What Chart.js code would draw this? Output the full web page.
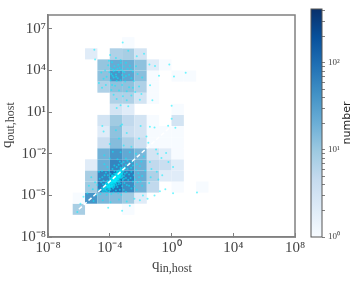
<!DOCTYPE html>
<html>
<head>
<meta charset="utf-8">
<script src="https://cdn.jsdelivr.net/npm/chart.js@4/dist/chart.umd.min.js"></script>
<style>
  html, body { margin: 0; padding: 0; background: #fff; }
  #wrap { position: relative; width: 354px; height: 283px; }
  #main { position: absolute; left: 0; top: 0; }
  #bar { position: absolute; left: 300px; top: 0; }
</style>
</head>
<body>
<div id="wrap">
  <canvas id="main" width="354" height="283"></canvas>
  <canvas id="bar" width="54" height="283"></canvas>
</div>
<script>
// log10 edges of the 20 x 20 histogram bins
const binEdges = [-8, -7.2, -6.4, -5.6, -4.8, -4, -3.2, -2.4, -1.6, -0.8, 0, 0.8, 1.6, 2.4, 3.2, 4, 4.8, 5.6, 6.4, 7.2, 8];

// counts per column, row 0 is the lowest bin that has anything in it (starts at binEdges[2])
const countRows = [
  [0, 0, 8, 0, 0, 0, 1, 0, 0, 0, 0, 0, 0],
  [0, 0, 1, 40, 16, 14, 9, 2, 0, 0, 0, 0, 0],
  [0, 0, 0, 9, 70, 90, 50, 18, 5, 0, 1, 0, 1],
  [0, 0, 0, 8, 60, 100, 70, 22, 7, 2, 2, 0, 0],
  [0, 0, 0, 2, 20, 60, 40, 20, 5, 4, 2, 0, 0],
  [0, 0, 0, 0, 18, 40, 24, 16, 3, 2, 1, 0, 0],
  [0, 0, 0, 0, 4, 14, 7, 4, 1, 1, 1, 0, 0],
  [0, 0, 0, 0, 2, 12, 4, 3, 1, 1, 1, 0, 0],
  [0, 0, 0, 0, 3, 9, 5, 3, 1, 0, 3, 0, 0],
  [0, 0, 0, 0, 0, 3, 2, 0, 0, 0, 1, 0, 0],
  [0, 0, 0, 0, 0, 7, 7, 3, 1, 0, 0, 0, 0],
  [0, 0, 0, 0, 7, 12, 12, 7, 1, 0, 0, 0, 0],
  [0, 0, 0, 0, 12, 38, 26, 13, 1, 0, 1, 1, 0],
  [0, 0, 0, 0, 11, 22, 20, 12, 2, 1, 0, 0, 0],
  [0, 0, 0, 2, 0, 7, 8, 3, 0, 0, 0, 0, 0],
  [0, 0, 0, 0, 0, 0, 1, 0, 0, 0, 0, 0, 0]
];
const firstRow = 2;
const countMax = 417;

const blues = ['#f7fbff', '#deebf7', '#c6dbef', '#9ecae1', '#6baed6', '#4292c6', '#2171b5', '#08519c', '#08306b'];

const xTicks = [1e-8, 1e-4, 1, 1e4, 1e8];
const xTickLabels = ['10⁻⁸', '10⁻⁴', '10⁰', '10⁴', '10⁸'];
const yTicks = [1e-8, 1e-5, 1e-2, 10, 1e4, 1e7];
const yTickLabels = ['10⁻⁸', '10⁻⁵', '10⁻²', '10¹', '10⁴', '10⁷'];
const barTicks = [1, 2, 3, 4, 5, 6, 7, 8, 9, 10, 20, 30, 40, 50, 60, 70, 80, 90, 100, 200, 300, 400];
const barTickLabels = { 1: '10⁰', 10: '10¹', 100: '10²' };

const lineEnds = [[1e-6, 1e-6], [1, 1]];

// log10 q_in, log10 q_out
const upperCloud = [
  [-3.16, 6.01], [-5.0, 5.5], [-4.95, 4.8], [-3.98, 5.12], [-2.8, 5.43], [-1.78, 5.2], [-2.25, 5.03], [-1.07, 4.33],
  [-0.14, 4.43], [-1.43, 4.43], [0.92, 3.84], [0.16, 3.56], [-0.81, 3.63], [-1.39, 2.93], [-1.24, 1.86], [0.01, 1.46],
  [0.01, 0.53], [-3.6, 4.9], [-3.3, 4.75], [-3.85, 4.6], [-2.95, 4.55], [-3.45, 4.42], [-4.1, 4.38], [-3.7, 4.3],
  [-3.1, 4.28], [-2.7, 4.35], [-3.95, 4.15], [-3.5, 4.12], [-3.25, 4.05], [-2.85, 4.1], [-4.3, 4.0], [-3.75, 3.95],
  [-3.4, 3.9], [-3.05, 3.88], [-2.5, 3.92], [-4.55, 3.85], [-3.9, 3.75], [-3.6, 3.72], [-3.2, 3.68], [-2.75, 3.7],
  [-2.2, 3.75], [-4.2, 3.55], [-3.75, 3.5], [-3.48, 3.45], [-3.1, 3.5], [-2.6, 3.45], [-1.9, 3.5], [-3.95, 3.3],
  [-3.55, 3.25], [-3.0, 3.2], [-2.45, 3.25], [-4.7, 3.1], [-4.25, 2.95], [-3.65, 2.9], [-3.2, 2.95], [-2.75, 2.8],
  [-2.1, 2.85], [-4.5, 2.75], [-3.9, 2.6], [-3.4, 2.55], [-2.9, 2.5], [-2.35, 2.45], [-3.75, 2.25], [-3.15, 2.15],
  [-2.6, 2.2], [-1.95, 2.3], [-3.55, 1.95], [-2.9, 1.85], [-2.05, 1.9], [-3.3, 1.5], [-3.55, 1.3], [-2.8, 1.42],
  [-3.82, 3.62], [-3.62, 4.02], [-3.35, 4.2], [-3.15, 3.95], [-3.58, 3.55], [-3.3, 3.3], [-2.95, 3.6], [-3.78, 4.08],
  [-4.02, 3.88], [-3.28, 4.55], [-2.62, 4.08], [-4.4, 3.4], [-2.3, 4.3], [-4.05, 4.7], [-2.5, 2.75], [-3.85, 2.95]
];

const lowerCloud = [
  [-4.48, -0.0], [-3.3, 0.02], [-3.2, 0.1], [-2.0, 0.0], [-1.4, -0.05], [-1.1, -0.1], [-1.62, -0.75], [-0.22, 0.02],
  [0.25, -0.12], [-4.4, -0.4], [-3.6, -0.3], [-2.9, -0.5], [-2.1, -0.9], [-1.5, -1.2], [-3.4, -0.9], [-4.0, -1.3],
  [-2.6, -1.5], [-3.1, -1.4], [-1.0, -1.7], [-0.9, -2.0], [-0.35, -1.95], [-0.65, -2.3], [-0.2, -2.6], [0.1, -2.95],
  [-1.4, -2.6], [-1.8, -2.2], [-2.3, -2.0], [-2.7, -1.9], [-3.3, -1.9], [-3.8, -1.85], [-4.35, -2.1], [-4.0, -2.35],
  [-3.5, -2.4], [-2.95, -2.35], [-2.45, -2.45], [-1.95, -2.55], [-1.3, -3.1], [-0.95, -3.3], [-0.6, -3.55], [-0.85, -3.85],
  [-1.35, -3.7], [-1.7, -3.2], [-1.45, -4.1], [-1.9, -4.3], [-2.25, -4.6], [-4.7, -3.3], [-4.95, -4.05], [-5.2, -3.7],
  [-5.35, -4.3], [-5.1, -4.55], [-5.45, -4.85], [-4.85, -4.95], [-5.7, -5.1], [-5.05, -5.4], [-4.45, -5.35], [-3.95, -5.5],
  [-3.4, -5.3], [-2.9, -5.45], [-2.4, -5.25], [-2.7, -5.75], [-3.2, -6.1], [-4.1, -5.9], [-5.9, -5.6], [-6.1, -6.2],
  [-1.85, -5.0], [-2.05, -5.35], [-1.1, -5.0], [0.1, -4.85], [1.65, -4.8], [-0.4, -4.55], [-0.75, -4.7], [-1.55, -5.25]
];

const coreCloud = [
  [-4.42, -4.52], [-4.35, -4.3], [-4.3, -4.58], [-4.27, -4.12], [-4.22, -4.38], [-4.18, -4.7], [-4.15, -3.95], [-4.12, -4.22],
  [-4.08, -4.48], [-4.05, -4.02], [-4.02, -3.72], [-3.98, -4.3], [-3.96, -4.6], [-3.94, -3.88], [-3.9, -4.12], [-3.88, -4.4],
  [-3.86, -3.6], [-3.83, -3.92], [-3.8, -4.22], [-3.78, -4.5], [-3.76, -3.72], [-3.74, -4.02], [-3.72, -3.45], [-3.7, -3.85],
  [-3.68, -4.28], [-3.66, -3.6], [-3.63, -3.95], [-3.6, -4.15], [-3.58, -3.42], [-3.56, -3.78], [-3.54, -3.28], [-3.52, -3.62],
  [-3.5, -4.02], [-3.47, -3.5], [-3.45, -3.85], [-3.42, -3.2], [-3.4, -3.68], [-3.37, -3.38], [-3.35, -3.92], [-3.32, -3.55],
  [-3.3, -3.12], [-3.27, -3.75], [-3.24, -3.3], [-3.2, -3.5], [-3.16, -3.02], [-3.12, -3.28], [-3.08, -3.6], [-3.05, -2.95],
  [-4.3, -4.4], [-4.2, -4.15], [-4.1, -4.3], [-4.0, -4.1], [-3.92, -4.25], [-3.85, -3.8], [-3.82, -4.05], [-3.75, -3.9],
  [-3.7, -4.1], [-3.65, -3.75], [-3.62, -3.52], [-3.58, -3.92], [-3.55, -3.65], [-3.48, -3.72], [-3.44, -3.45], [-3.38, -3.6],
  [-3.34, -3.3], [-3.28, -3.42], [-4.12, -4.05], [-4.04, -4.42], [-3.96, -3.98], [-3.9, -3.72], [-3.84, -3.55], [-3.78, -3.7],
  [-3.72, -3.78], [-3.68, -3.98], [-3.6, -3.85], [-3.52, -3.48], [-3.46, -3.6], [-3.42, -3.82], [-3.36, -3.48], [-3.26, -3.2],
  [-4.6, -4.9], [-4.72, -4.6], [-4.8, -4.25], [-4.55, -4.05], [-4.65, -3.8], [-4.48, -3.7], [-4.4, -3.95], [-4.33, -3.55],
  [-4.25, -3.35], [-4.12, -3.55], [-4.05, -3.2], [-3.95, -3.45], [-3.82, -3.1], [-3.7, -3.25], [-3.55, -2.95], [-3.42, -2.8],
  [-3.25, -2.7], [-3.1, -2.6], [-2.95, -2.8], [-2.85, -3.1], [-2.75, -2.7], [-2.62, -3.0], [-2.5, -2.85], [-2.9, -3.35],
  [-2.75, -3.5], [-2.6, -3.3], [-2.45, -3.55], [-2.3, -3.15], [-2.15, -3.4], [-2.95, -3.75], [-2.8, -3.9], [-2.65, -3.75],
  [-2.5, -4.0], [-2.35, -3.85], [-2.2, -4.05], [-3.05, -4.1], [-2.9, -4.25], [-2.75, -4.3], [-2.6, -4.5], [-2.4, -4.35],
  [-3.2, -4.35], [-3.1, -4.6], [-2.95, -4.75], [-3.35, -4.6], [-3.5, -4.4], [-3.6, -4.65], [-3.75, -4.8], [-3.45, -4.85],
  [-3.25, -4.95], [-3.9, -4.9], [-4.05, -4.75], [-4.2, -4.95], [-4.35, -4.78], [-4.5, -4.45], [-3.15, -3.9], [-3.3, -4.15],
  [-3.02, -3.45], [-3.42, -4.2], [-3.22, -3.7], [-4.44, -4.2], [-2.55, -2.6], [-2.85, -2.5], [-3.35, -2.55], [-3.7, -2.85],
  [-4.15, -2.95], [-4.5, -3.25], [-4.35, -2.75], [-2.05, -2.9], [-1.9, -3.6], [-2.1, -3.7], [-2.0, -4.0], [-2.25, -2.75]
];

// the bright blob on the diagonal
const denseCore = [
  [-4.38, -4.62], [-4.33, -4.47], [-4.28, -4.25], [-4.25, -4.52], [-4.2, -4.3], [-4.17, -4.44], [-4.14, -4.1], [-4.1, -4.58],
  [-4.07, -4.17], [-4.03, -4.33], [-4.0, -3.92], [-3.99, -4.52], [-3.95, -4.18], [-3.93, -4.38], [-3.9, -3.98], [-3.87, -4.27],
  [-3.85, -4.1], [-3.83, -3.75], [-3.81, -4.4], [-3.79, -3.98], [-3.77, -4.15], [-3.75, -3.62], [-3.73, -3.88], [-3.71, -4.24],
  [-3.69, -3.7], [-3.67, -4.05], [-3.65, -3.88], [-3.63, -3.62], [-3.61, -4.0], [-3.59, -3.72], [-3.57, -3.5], [-3.55, -3.88],
  [-3.53, -3.72], [-3.51, -3.38], [-3.49, -3.6], [-3.47, -3.92], [-3.45, -3.5], [-3.43, -3.68], [-3.41, -3.33], [-3.39, -3.52],
  [-3.37, -3.75], [-3.33, -3.42], [-3.31, -3.62], [-3.29, -3.24], [-3.25, -3.45], [-3.22, -3.14], [-3.18, -3.38], [-3.14, -3.12],
  [-4.24, -4.2], [-4.16, -4.28], [-4.09, -4.14], [-4.02, -4.22], [-3.97, -4.08], [-3.91, -3.85], [-3.88, -4.15], [-3.84, -3.98],
  [-3.8, -3.85], [-3.76, -4.05], [-3.74, -3.75], [-3.7, -3.62], [-3.66, -3.85], [-3.62, -3.68], [-3.6, -3.95], [-3.56, -3.58],
  [-3.52, -3.8], [-3.5, -3.55], [-3.46, -3.4], [-3.44, -3.72], [-3.4, -3.5], [-3.36, -3.62], [-3.32, -3.28], [-3.28, -3.55],
  [-4.13, -4.36], [-4.06, -4.08], [-3.98, -4.4], [-3.92, -4.02], [-3.86, -4.32], [-3.82, -3.86], [-3.78, -4.28], [-3.72, -3.96],
  [-3.68, -3.82], [-3.64, -4.08], [-3.58, -3.8], [-3.54, -3.5], [-3.48, -3.84], [-3.42, -3.62], [-3.38, -3.4], [-3.34, -3.7],
  [-4.46, -4.72], [-4.52, -4.6], [-4.26, -4.66], [-4.11, -4.4], [-3.94, -3.78], [-3.8, -3.58], [-3.64, -3.45], [-3.5, -3.25],
  [-3.3, -3.0], [-3.1, -3.15], [-3.0, -3.05], [-3.18, -3.62], [-3.08, -3.8], [-3.4, -4.05], [-3.55, -4.25], [-3.7, -4.4]
];

function cellColor(count) {
  const t = Math.log(count) / Math.log(countMax) * (blues.length - 1);
  const i = Math.min(Math.floor(t), blues.length - 2);
  const f = t - i;
  const a = parseInt(blues[i].slice(1), 16);
  const b = parseInt(blues[i + 1].slice(1), 16);
  const mix = shift => Math.round(((a >> shift) & 255) * (1 - f) + ((b >> shift) & 255) * f);
  return `rgb(${mix(16)},${mix(8)},${mix(0)})`;
}

const toPoints = list => list.map(p => ({ x: Math.pow(10, p[0]), y: Math.pow(10, p[1]) }));

const axisGray = '#808080';
const textGray = '#444444';
const serif = '"Liberation Serif", serif';

function drawSubLabel(ctx, x, y, main, sub) {
  ctx.textBaseline = 'alphabetic';
  ctx.textAlign = 'left';
  ctx.fillStyle = textGray;
  ctx.font = '15px ' + serif;
  const w = ctx.measureText(main).width;
  ctx.fillText(main, x, y);
  ctx.font = '12px ' + serif;
  ctx.fillText(sub, x + w, y + 3);
}

const histogram = {
  id: 'histogram',
  beforeDatasetsDraw(chart) {
    const ctx = chart.ctx, sx = chart.scales.x, sy = chart.scales.y;
    countRows.forEach((row, r) => {
      row.forEach((count, c) => {
        if (!count) return;
        const x0 = sx.getPixelForValue(Math.pow(10, binEdges[c]));
        const x1 = sx.getPixelForValue(Math.pow(10, binEdges[c + 1]));
        const y0 = sy.getPixelForValue(Math.pow(10, binEdges[r + firstRow]));
        const y1 = sy.getPixelForValue(Math.pow(10, binEdges[r + firstRow + 1]));
        ctx.fillStyle = cellColor(count);
        ctx.fillRect(x0, y1, x1 - x0, y0 - y1);
      });
    });
  },
  afterDraw(chart) {
    const ctx = chart.ctx, a = chart.chartArea;
    ctx.save();
    ctx.strokeStyle = axisGray;
    ctx.lineWidth = 1.5;
    ctx.strokeRect(a.left, a.top, a.right - a.left, a.bottom - a.top);
    drawSubLabel(ctx, 152, 269, 'q', 'in,host');
    ctx.translate(11, 148);
    ctx.rotate(-Math.PI / 2);
    drawSubLabel(ctx, 0, 0, 'q', 'out,host');
    ctx.restore();
  }
};

new Chart(document.getElementById('main'), {
  type: 'scatter',
  data: {
    datasets: [
      {
        type: 'line',
        data: lineEnds.map(p => ({ x: p[0], y: p[1] })),
        borderColor: '#ffffff',
        borderWidth: 1.5,
        borderDash: [4, 2.5],
        pointRadius: 0,
        order: 0
      },
      {
        data: toPoints(upperCloud.concat(lowerCloud, coreCloud, denseCore)),
        backgroundColor: 'rgba(0,240,255,0.55)',
        borderWidth: 0,
        pointRadius: 1,
        order: 1
      }
    ]
  },
  options: {
    responsive: false,
    animation: false,
    events: [],
    layout: { padding: { left: 0, top: 9, right: 59, bottom: 0 } },
    plugins: { legend: { display: false }, tooltip: { enabled: false } },
    scales: {
      x: {
        type: 'logarithmic',
        min: 1e-8,
        max: 1e8,
        afterBuildTicks: s => { s.ticks = xTicks.map(v => ({ value: v })); },
        afterFit: s => { s.height = 46; },
        ticks: {
          autoSkip: false, maxRotation: 0, padding: 6, color: textGray,
          font: { family: serif, size: 15 },
          callback: v => xTickLabels[xTicks.indexOf(v)]
        },
        grid: { drawOnChartArea: false, tickLength: -4, tickColor: axisGray },
        border: { color: axisGray, width: 1.5 }
      },
      y: {
        type: 'logarithmic',
        min: 1e-8,
        max: 1e8,
        afterBuildTicks: s => { s.ticks = yTicks.map(v => ({ value: v })); },
        afterFit: s => { s.width = 48; },
        ticks: {
          autoSkip: false, maxRotation: 0, padding: 6, color: textGray,
          font: { family: serif, size: 15 },
          callback: v => yTickLabels[yTicks.indexOf(v)]
        },
        grid: { drawOnChartArea: false, tickLength: -4, tickColor: axisGray },
        border: { color: axisGray, width: 1.5 }
      }
    }
  },
  plugins: [histogram]
});

const colorbar = {
  id: 'colorbar',
  beforeDatasetsDraw(chart) {
    const ctx = chart.ctx, a = chart.chartArea;
    const g = ctx.createLinearGradient(0, a.bottom, 0, a.top);
    blues.forEach((c, i) => g.addColorStop(i / (blues.length - 1), c));
    ctx.fillStyle = g;
    ctx.fillRect(a.left, a.top, a.right - a.left, a.bottom - a.top);
  },
  afterDraw(chart) {
    const ctx = chart.ctx, a = chart.chartArea;
    ctx.save();
    ctx.strokeStyle = '#555555';
    ctx.lineWidth = 1;
    ctx.strokeRect(a.left, a.top, a.right - a.left, a.bottom - a.top);
    ctx.fillStyle = '#222222';
    ctx.font = '11px "DejaVu Sans", sans-serif';
    ctx.textAlign = 'center';
    ctx.textBaseline = 'middle';
    ctx.translate(47, 123);
    ctx.rotate(-Math.PI / 2);
    ctx.fillText('number', 0, 0);
    ctx.restore();
  }
};

new Chart(document.getElementById('bar'), {
  type: 'scatter',
  data: { datasets: [{ data: [] }] },
  options: {
    responsive: false,
    animation: false,
    events: [],
    layout: { padding: { left: 11, top: 9, right: 0, bottom: 46 } },
    plugins: { legend: { display: false }, tooltip: { enabled: false } },
    scales: {
      x: { display: false },
      y: {
        type: 'logarithmic',
        position: 'right',
        min: 1,
        max: countMax,
        afterBuildTicks: s => { s.ticks = barTicks.map(v => ({ value: v })); },
        afterFit: s => { s.width = 32; },
        ticks: {
          autoSkip: false, maxRotation: 0, padding: 3, color: textGray,
          font: { family: serif, size: 9 },
          callback: v => barTickLabels[v] || ''
        },
        grid: { drawOnChartArea: false, tickLength: 3, tickColor: axisGray },
        border: { display: false }
      }
    }
  },
  plugins: [colorbar]
});
</script>
</body>
</html>
